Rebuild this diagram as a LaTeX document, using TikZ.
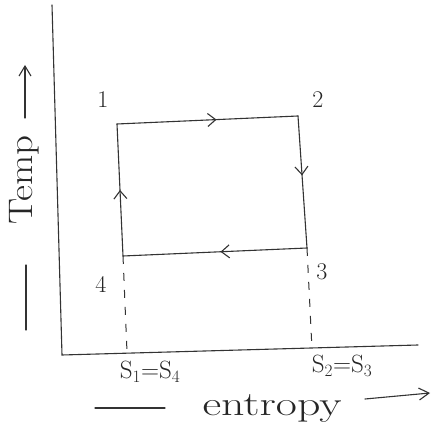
\documentclass[tikz,border=0pt]{standalone}
\usepackage{fontspec}
\usetikzlibrary{arrows.meta,decorations.markings}
\tikzset{
  ink/.style={draw=black!80, line width=1.1pt, line cap=round},
  midarrow/.style={postaction={decorate},decoration={markings,
    mark=at position #1 with {\arrow{Straight Barb[length=8pt,width=13pt,line width=1.1pt]}}}},
  dashedline/.style={draw=black!80, line width=1pt, dash pattern=on 8pt off 9pt},
  lbl/.style={font=\fontsize{24}{26}\selectfont, text=black!85, inner sep=1pt},
  slbl/.style={font=\fontsize{25}{27}\selectfont, text=black!85, inner sep=1pt},
  axlbl/.style={font=\fontsize{34}{36}\selectfont, text=black!85, inner sep=1pt},
}
\begin{document}
\begin{tikzpicture}[x=1pt,y=1pt]
\useasboundingbox (0,0) rectangle (439,436);
% axes
\coordinate (ytop) at (52,431);
\coordinate (O) at (62,81);
\coordinate (xend) at (418,91);
\draw[ink] (ytop) -- (O) -- (xend);
% cycle points
\coordinate (p1) at (117,312);
\coordinate (p2) at (298,320);
\coordinate (p3) at (307,188);
\coordinate (p4) at (123,180);
\draw[ink, midarrow=0.55] (p1) -- (p2);
\draw[ink, midarrow=0.45] (p2) -- (p3);
\draw[ink, midarrow=0.47] (p3) -- (p4);
\draw[ink, midarrow=0.5] (p4) -- (p1);
% dashed projections
\coordinate (s1) at (127,84);
\coordinate (s2) at (312,87);
\draw[dashedline] (p4) -- (s1);
\draw[dashedline] (p3) -- (s2);
% point labels
\node[lbl] (l1) at (103,336) {1};
\node[lbl] (l2) at (318,336) {2};
\node[lbl] (l3) at (322,164) {3};
\node[lbl] (l4) at (101,152) {4};
\node[slbl] (ls1) at (150,64) {S$_1$=S$_4$};
\node[slbl] (ls2) at (342,70) {S$_2$=S$_3$};
% axis titles
\node[axlbl, xscale=1.35] (ent) at (272,28) {entropy};
\coordinate (ea1) at (95,28);
\coordinate (ea2) at (165,28);
\draw[ink] (ea1) -- (ea2);
\coordinate (eb1) at (365,37);
\coordinate (eb2) at (430,43);
\draw[ink, -{Straight Barb[length=10pt,width=12pt]}] (eb1) -- (eb2);
\node[axlbl, rotate=90, xscale=1.15] (temp) at (24,256) {Temp};
\coordinate (tb1) at (26,106);
\coordinate (tb2) at (26,171);
\draw[ink] (tb1) -- (tb2);
\coordinate (tt1) at (25,318);
\coordinate (tt2) at (25,371);
\draw[ink, -{Straight Barb[length=10pt,width=12pt]}] (tt1) -- (tt2);
\end{tikzpicture}
\end{document}
